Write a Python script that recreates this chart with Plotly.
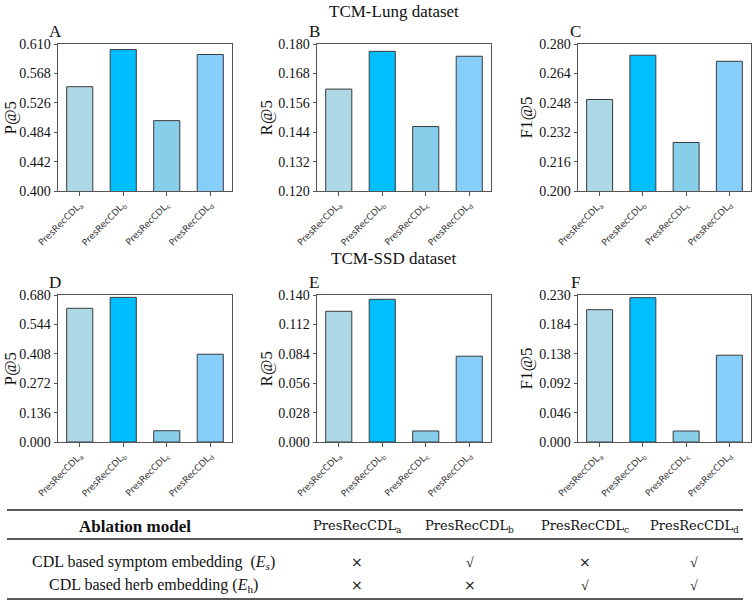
import plotly.graph_objects as go

W, H = 755, 604

categories = ["PresRecCDL<sub>a</sub>", "PresRecCDL<sub>b</sub>", "PresRecCDL<sub>c</sub>", "PresRecCDL<sub>d</sub>"]
bar_colors = ["#ADD8E6", "#00BFFF", "#87CEEB", "#87CEFA"]

panel_letters = ["A", "B", "C", "D", "E", "F"]
metric_names = ["P@5", "R@5", "F1@5", "P@5", "R@5", "F1@5"]

lung_p5 = [0.549, 0.602, 0.5005, 0.595]
lung_r5 = [0.1616, 0.1770, 0.1463, 0.1750]
lung_f15 = [0.2498, 0.2739, 0.2264, 0.2706]
ssd_p5 = [0.6185, 0.669, 0.052, 0.406]
ssd_r5 = [0.1245, 0.1359, 0.0105, 0.0817]
ssd_f15 = [0.207, 0.2258, 0.0172, 0.1358]

ticks_lung_p5 = [0.400, 0.442, 0.484, 0.526, 0.568, 0.610]
ticks_lung_r5 = [0.120, 0.132, 0.144, 0.156, 0.168, 0.180]
ticks_lung_f15 = [0.200, 0.216, 0.232, 0.248, 0.264, 0.280]
ticks_ssd_p5 = [0.000, 0.136, 0.272, 0.408, 0.544, 0.680]
ticks_ssd_r5 = [0.000, 0.028, 0.056, 0.084, 0.112, 0.140]
ticks_ssd_f15 = [0.000, 0.046, 0.092, 0.138, 0.184, 0.230]

section_titles = ["TCM-Lung dataset", "TCM-SSD dataset"]

table_header = ["<b>Ablation model</b>", "PresRecCDL<sub>a</sub>", "PresRecCDL<sub>b</sub>",
                "PresRecCDL<sub>c</sub>", "PresRecCDL<sub>d</sub>"]
table_row_labels = ["CDL based symptom embedding  (<i>E</i><sub><i>s</i></sub>)",
                    "CDL based herb embedding (<i>E</i><sub>h</sub>)"]
table_marks = [["×", "√", "×", "√"],
               ["×", "×", "√", "√"]]

series = [lung_p5, lung_r5, lung_f15, ssd_p5, ssd_r5, ssd_f15]
ticks = [ticks_lung_p5, ticks_lung_r5, ticks_lung_f15, ticks_ssd_p5, ticks_ssd_r5, ticks_ssd_f15]

# layout geometry in pixels
col_x = [(58, 232), (317, 491), (578, 751)]
row_y = [(44, 191), (295, 442)]
ytitle_x = [10, 266, 526]

def px(x):
    return x / W

def py(y):
    return 1 - y / H

SERIF = "Liberation Serif, Times New Roman, serif"

fig = go.Figure()
layout = dict(
    width=W, height=H, margin=dict(l=0, r=0, t=0, b=0, autoexpand=False),
    paper_bgcolor="white", plot_bgcolor="white", showlegend=False,
    bargap=0.4,
)
annotations = []
shapes = []

for i in range(6):
    r, c = divmod(i, 3)
    n = i + 1
    xa = "x" if n == 1 else f"x{n}"
    ya = "y" if n == 1 else f"y{n}"
    fig.add_trace(go.Bar(
        x=[0, 1, 2, 3], y=series[i], xaxis=xa, yaxis=ya, width=0.6,
        marker=dict(color=bar_colors, line=dict(color="#3a3a3a", width=1)),
        hoverinfo="skip",
    ))
    tv = ticks[i]
    layout["xaxis" if n == 1 else f"xaxis{n}"] = dict(
        domain=[px(col_x[c][0]), px(col_x[c][1])], anchor=ya, automargin=False,
        range=[-0.5, 3.5], tickmode="array", tickvals=[0, 1, 2, 3], ticktext=categories,
        tickangle=-45, ticks="outside", ticklen=4, tickcolor="#555",
        tickfont=dict(family="DejaVu Sans, sans-serif", size=9, color="#333"),
        showline=True, linecolor="#555", linewidth=1, mirror=True, showgrid=False,
        zeroline=False, fixedrange=True,
    )
    layout["yaxis" if n == 1 else f"yaxis{n}"] = dict(
        domain=[py(row_y[r][1]), py(row_y[r][0])], anchor=xa, automargin=False,
        range=[tv[0], tv[-1]], tickmode="array", tickvals=tv,
        ticktext=[f"{v:.3f}" for v in tv],
        ticks="outside", ticklen=3.5, tickcolor="#555",
        tickfont=dict(family=SERIF, size=14, color="#111"),
        showline=True, linecolor="#555", linewidth=1, mirror=True, showgrid=False,
        zeroline=False, fixedrange=True,
    )
    annotations.append(dict(
        text=metric_names[i], x=px(ytitle_x[c]), y=py((row_y[r][0] + row_y[r][1]) / 2),
        xref="paper", yref="paper", xanchor="center", yanchor="middle", showarrow=False,
        textangle=-90, font=dict(family=SERIF, size=17, color="#111"),
    ))
    annotations.append(dict(
        text=panel_letters[i], x=px(col_x[c][0] - 3), y=py(row_y[r][0] - 1),
        xref="paper", yref="paper", xanchor="center", yanchor="bottom", showarrow=False,
        font=dict(family=SERIF, size=17, color="#111"),
    ))

# section titles
for j, t in enumerate(section_titles):
    annotations.append(dict(
        text=t, x=px(394), y=py([11, 258][j]), xref="paper", yref="paper",
        xanchor="center", yanchor="middle", showarrow=False,
        font=dict(family=SERIF, size=17, color="#111"),
    ))

# table
tbl_left, tbl_right = 7, 743
for yy, lw in [(510, 1.6), (539, 1.3), (599, 1.6)]:
    shapes.append(dict(type="line", xref="paper", yref="paper",
                       x0=px(tbl_left), x1=px(tbl_right), y0=py(yy), y1=py(yy),
                       line=dict(color="#222", width=lw)))

col_centers = [357, 470, 585, 694]
header_y, row_ys = 526, [562, 585]
annotations.append(dict(
    text=table_header[0], x=px(135), y=py(header_y), xref="paper", yref="paper",
    xanchor="center", yanchor="middle", showarrow=False,
    font=dict(family=SERIF, size=17, color="#111"),
))
for k in range(4):
    annotations.append(dict(
        text=table_header[k + 1], x=px(col_centers[k]), y=py(header_y), xref="paper", yref="paper",
        xanchor="center", yanchor="middle", showarrow=False,
        font=dict(family="DejaVu Serif, serif", size=13, color="#111"),
    ))
for rI in range(2):
    annotations.append(dict(
        text=table_row_labels[rI], x=px(153), y=py(row_ys[rI]), xref="paper", yref="paper",
        xanchor="center", yanchor="middle", showarrow=False,
        font=dict(family=SERIF, size=16, color="#111"),
    ))
    for k in range(4):
        m = table_marks[rI][k]
        annotations.append(dict(
            text=m, x=px(col_centers[k]), y=py(row_ys[rI]), xref="paper", yref="paper",
            xanchor="center", yanchor="middle", showarrow=False,
            font=dict(family=("DejaVu Sans, sans-serif" if m == "×" else SERIF), size=14, color="#111"),
        ))

layout["annotations"] = annotations
layout["shapes"] = shapes
fig.update_layout(**layout)
fig.write_html("out.html")
